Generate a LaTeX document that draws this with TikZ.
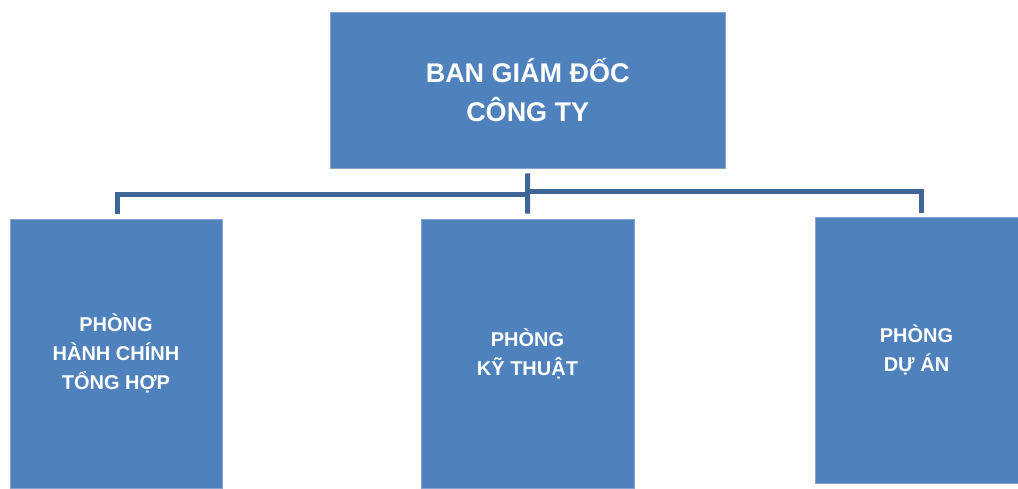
\documentclass[tikz,border=0pt]{standalone}
\usepackage{fontspec}
\setmainfont{Liberation Sans}
\definecolor{boxblue}{HTML}{4F81BD}
\definecolor{boxedge}{HTML}{86A4CF}
\definecolor{linkblue}{HTML}{3F6597}
\begin{document}
\begin{tikzpicture}[x=1pt,y=1pt]
  \tikzstyle{every node}=[fill=boxblue,draw=boxedge,line width=0.8pt,
    text=white,font=\bfseries,align=center,inner sep=0pt]
  \tikzstyle{dept}=[font=\fontsize{20}{29}\selectfont\bfseries]
  \tikzstyle{link}=[draw=linkblue,line width=5pt]
  \useasboundingbox (0,0) rectangle (1018,488);
  \node[minimum width=395pt,minimum height=156pt,
    font=\fontsize{27}{39}\selectfont\bfseries]
    (bgd) at (527.75,398) {BAN GIÁM ĐỐC\\CÔNG TY};
  \node[dept,minimum width=212pt,minimum height=269pt]
    (phc) at (116,134.5) {PHÒNG\\HÀNH CHÍNH\\TỔNG HỢP};
  \node[dept,minimum width=213pt,minimum height=269pt]
    (pkt) at (527.5,134.5) {PHÒNG\\KỸ THUẬT};
  \node[dept,minimum width=203pt,minimum height=266pt]
    (pda) at (916.5,138) {PHÒNG\\DỰ ÁN};
  \coordinate (jl) at (bgd.south |- 0,293.5);
  \coordinate (jr) at (bgd.south |- 0,296);
  \draw[link] ([yshift=-5pt]bgd.south) -- ([yshift=5pt]pkt.north);
  \draw[link] ([xshift=1pt,yshift=5pt]phc.north) |- (jl);
  \draw[link] (jr) -| ([xshift=4.5pt,yshift=4pt]pda.north);
\end{tikzpicture}
\end{document}
